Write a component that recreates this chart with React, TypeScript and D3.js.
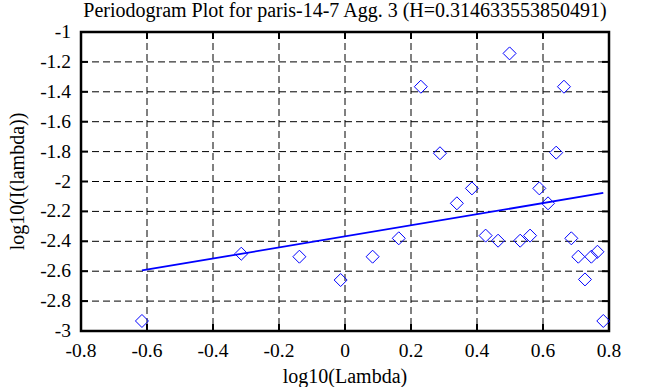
import React from "react";
import * as d3 from "d3";

const xValues = [
  -0.6153, -0.3143, -0.1382, -0.0132, 0.0837, 0.1629, 0.2298, 0.2878, 0.339,
  0.3847, 0.4261, 0.4639, 0.4987, 0.5309, 0.5608, 0.5889, 0.6152, 0.64, 0.6635,
  0.6858, 0.707, 0.7272, 0.7465, 0.765, 0.7827,
];
const yValues = [
  -2.933, -2.483, -2.503, -2.659, -2.503, -2.38, -1.366, -1.811, -2.146, -2.046,
  -2.362, -2.396, -1.143, -2.396, -2.362, -2.046, -2.146, -1.807, -1.366, -2.38,
  -2.503, -2.655, -2.503, -2.47, -2.933,
];
const H = 0.314633553850491;
const fitSlope = 1 - 2 * H;
const fitIntercept = -2.367;
const xTicks = [-0.8, -0.6, -0.4, -0.2, 0, 0.2, 0.4, 0.6, 0.8];
const yTicks = [-1, -1.2, -1.4, -1.6, -1.8, -2, -2.2, -2.4, -2.6, -2.8, -3];
const title = "Periodogram Plot for paris-14-7 Agg. 3 (H=0.314633553850491)";
const xLabel = "log10(Lambda)";
const yLabel = "log10(I(lambda))";

const W = 653;
const Hh = 387;
const left = 81;
const right = 609;
const top = 32;
const bottom = 331;

export default function App() {
  const x = d3.scaleLinear().domain([-0.8, 0.8]).range([left, right]);
  const y = d3.scaleLinear().domain([-1, -3]).range([top, bottom]);
  const fs = { fontFamily: "Liberation Serif, DejaVu Serif, serif" };
  const fmt = (v: number) => (v === 0 ? "0" : String(v));
  const x0 = d3.min(xValues) as number;
  const x1 = d3.max(xValues) as number;
  const line = d3.line<number>()
    .x((d) => x(d))
    .y((d) => y(fitIntercept + fitSlope * d));
  const tl = 7;
  return (
    <svg width={W} height={Hh} style={{ position: "absolute", left: 0, top: 0, background: "#fff" }}>
      <rect x={0} y={0} width={W} height={Hh} fill="#fff" />
      {xTicks.slice(1, -1).map((t) => (
        <line key={"gx" + t} x1={x(t)} x2={x(t)} y1={top} y2={bottom} stroke="#000" strokeWidth={1} strokeDasharray="7,4" />
      ))}
      {yTicks.slice(1, -1).map((t) => (
        <line key={"gy" + t} x1={left} x2={right} y1={y(t)} y2={y(t)} stroke="#000" strokeWidth={1} strokeDasharray="7,4" />
      ))}
      {xTicks.slice(1, -1).map((t) => (
        <g key={"tx" + t}>
          <line x1={x(t)} x2={x(t)} y1={top} y2={top + tl} stroke="#000" strokeWidth={2} />
          <line x1={x(t)} x2={x(t)} y1={bottom} y2={bottom - tl} stroke="#000" strokeWidth={2} />
        </g>
      ))}
      {yTicks.slice(1, -1).map((t) => (
        <g key={"ty" + t}>
          <line x1={left} x2={left + tl} y1={y(t)} y2={y(t)} stroke="#000" strokeWidth={2} />
          <line x1={right} x2={right - tl} y1={y(t)} y2={y(t)} stroke="#000" strokeWidth={2} />
        </g>
      ))}
      <rect x={left} y={top} width={right - left} height={bottom - top} fill="none" stroke="#000" strokeWidth={2.5} />
      <path d={line([x0, x1]) || ""} stroke="#0000ff" strokeWidth={1.8} fill="none" />
      {xValues.map((v, i) => {
        const cx = x(v);
        const cy = y(yValues[i]);
        const r = 6.5;
        return (
          <path key={"p" + i} d={`M${cx},${cy - r}L${cx + r},${cy}L${cx},${cy + r}L${cx - r},${cy}Z`} fill="none" stroke="#0000ff" strokeWidth={1} />
        );
      })}
      {xTicks.map((t) => (
        <text key={"lx" + t} x={x(t)} y={357} textAnchor="middle" style={fs} fontSize={19.5} fill="#000">
          {fmt(t)}
        </text>
      ))}
      {yTicks.map((t) => (
        <text key={"ly" + t} x={71} y={y(t) + 6} textAnchor="end" style={fs} fontSize={19.5} fill="#000">
          {fmt(t)}
        </text>
      ))}
      <text x={(left + right) / 2} y={17} textAnchor="middle" style={fs} fontSize={20} fill="#000">
        {title}
      </text>
      <text x={(left + right) / 2} y={383} textAnchor="middle" style={fs} fontSize={20} fill="#000">
        {xLabel}
      </text>
      <text transform={`translate(24,${(top + bottom) / 2}) rotate(-90)`} textAnchor="middle" style={fs} fontSize={20} fill="#000">
        {yLabel}
      </text>
    </svg>
  );
}
